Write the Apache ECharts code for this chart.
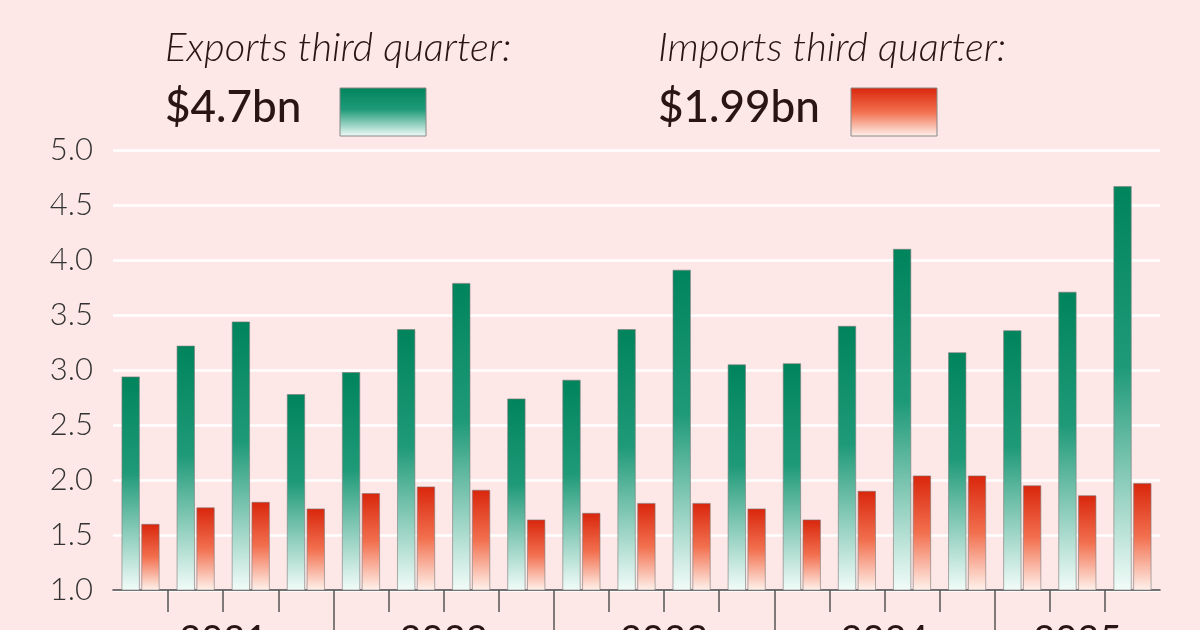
<!DOCTYPE html><html><head><meta charset="utf-8">
<script src="https://cdn.jsdelivr.net/npm/echarts@6/dist/echarts.min.js"></script>
<style>html,body{margin:0;background:#fde7e7}#c{width:1200px;height:630px}</style></head><body><div id="c"></div>
<script>
const quarters=['2021Q1','2021Q2','2021Q3','2021Q4','2022Q1','2022Q2','2022Q3','2022Q4','2023Q1','2023Q2','2023Q3','2023Q4','2024Q1','2024Q2','2024Q3','2024Q4','2025Q1','2025Q2','2025Q3'];
const exportsBn=[2.94,3.22,3.44,2.78,2.98,3.37,3.79,2.74,2.91,3.37,3.91,3.05,3.06,3.40,4.10,3.16,3.36,3.71,4.67];
const importsBn=[1.60,1.75,1.80,1.74,1.88,1.94,1.91,1.64,1.70,1.79,1.79,1.74,1.64,1.90,2.04,2.04,1.95,1.86,1.97];
const yearLabels={2:'2021',6:'2022',10:'2023',14:'2024',17.5:'2025'};
const yearStarts=[4,8,12,16];
const quarterTicks=[1,2,3,5,6,7,9,10,11,13,14,15,17,18];
const gExp={type:'linear',x:0,y:0,x2:0,y2:1,colorStops:[{offset:0,color:'#00845c'},{offset:0.45,color:'#1f9a78'},{offset:1,color:'#f2fcf9'}]};
const gImp={type:'linear',x:0,y:0,x2:0,y2:1,colorStops:[{offset:0,color:'#d9260c'},{offset:0.5,color:'#f2704f'},{offset:1,color:'#fff2ec'}]};
const ch=echarts.init(document.getElementById('c'));
const txt='#2a1414';
ch.setOption({
 backgroundColor:'#fde7e7',animation:false,
 grid:{left:113,right:40,top:150,bottom:40,outerBoundsMode:'none',containLabel:false},
 graphic:[
  {type:'text',left:165,top:28,style:{text:'Exports third quarter:',font:'italic 300 40px Lato',fill:txt}},
  {type:'text',left:165,top:86,style:{text:'$4.7bn',font:'500 44px Lato',fill:txt}},
  {type:'rect',shape:{x:340,y:88,width:86,height:48},style:{fill:gExp,stroke:'#888',lineWidth:1}},
  {type:'text',left:658,top:28,style:{text:'Imports third quarter:',font:'italic 300 40px Lato',fill:txt}},
  {type:'text',left:658,top:86,style:{text:'$1.99bn',font:'500 44px Lato',fill:txt}},
  {type:'rect',shape:{x:851,y:88,width:86,height:48},style:{fill:gImp,stroke:'#888',lineWidth:1}}
 ],
 xAxis:[
  {type:'category',data:quarters,boundaryGap:true,axisLine:{lineStyle:{color:'#444',width:1.5}},axisTick:{show:false},axisLabel:{show:false}},
  {type:'value',min:0,max:19,position:'bottom',axisLine:{show:false},splitLine:{show:false},axisLabel:{show:false},
   axisTick:{show:true,length:22,customValues:quarterTicks,lineStyle:{color:'#555',width:1.5}}},
  {type:'value',min:0,max:19,position:'bottom',axisLine:{show:false},splitLine:{show:false},axisLabel:{show:false},
   axisTick:{show:true,length:50,customValues:yearStarts,lineStyle:{color:'#555',width:1.5}}},
  {type:'value',min:0,max:19,position:'bottom',axisLine:{show:false},axisTick:{show:false},splitLine:{show:false},
   axisLabel:{margin:32,fontSize:38,fontFamily:'Lato',color:txt,customValues:[2,6,10,14,17.5],formatter:v=>yearLabels[v]||''}}
 ],
 yAxis:{type:'value',min:1,max:5,interval:0.5,axisLine:{show:false},axisTick:{show:false},
  splitLine:{lineStyle:{color:'#ffffff',width:2.5}},
  axisLabel:{formatter:v=>v.toFixed(1),fontSize:31,fontFamily:'Lato',fontWeight:300,color:'#333',margin:20}},
 series:[
  {type:'bar',data:exportsBn,barWidth:18,barGap:'10%',itemStyle:{color:gExp,borderColor:'#7a7a7a',borderWidth:0.6}},
  {type:'bar',data:importsBn,barWidth:18,itemStyle:{color:gImp,borderColor:'#7a7a7a',borderWidth:0.6}}
 ]
});
</script></body></html>
